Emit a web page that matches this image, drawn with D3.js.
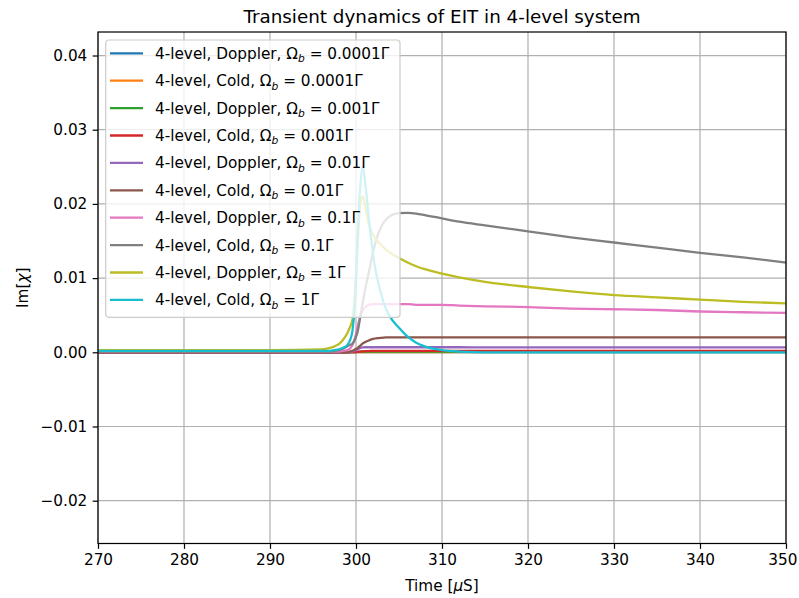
<!DOCTYPE html>
<html>
<head>
<meta charset="utf-8">
<script src="https://cdn.jsdelivr.net/npm/d3@7"></script>
<style>
  html, body { margin: 0; padding: 0; background: #fff; }
  svg { display: block; font-family: "DejaVu Sans", sans-serif; }
</style>
</head>
<body>
<svg id="chart" width="799" height="598"></svg>
<script>
// Sample times (µs), denser around the switch-on at ~300 µs
const times = [270, 280, 290, 296, 297, 297.5, 298, 298.5, 299, 299.3, 299.6, 299.9,
  300.2, 300.5, 300.8, 301.1, 301.5, 302, 302.5, 303, 303.5, 304, 305, 306, 307, 308,
  310, 312, 315, 320, 325, 330, 335, 340, 345, 350];

// Legend parts
const conditions = ["Doppler", "Cold", "Doppler", "Cold", "Doppler", "Cold", "Doppler", "Cold", "Doppler", "Cold"];
const omegaB = ["0.0001", "0.0001", "0.001", "0.001", "0.01", "0.01", "0.1", "0.1", "1", "1"];

// Im[chi] for each run, one value per sample time
const dopp00001 = [0.00001, 0.00001, 0.00001, 0.00001, 0.00001, 0.00001, 0.00001, 0.00001, 0.00001, 0.00001, 0.00001, 0.00001,
  0.00001, 0.00001, 0.00001, 0.00001, 0.00001, 0.00001, 0.00001, 0.00001, 0.00001, 0.00001, 0.00001, 0.00001, 0.00001, 0.00001,
  0.00001, 0.00001, 0.00001, 0.00001, 0.00001, 0.00001, 0.00001, 0.00001, 0.00001, 0.00001];
const cold00001 = [0, 0, 0, 0, 0, 0, 0, 0, 0, 0, 0, 0.00001,
  0.00001, 0.00002, 0.00002, 0.00002, 0.00002, 0.00002, 0.00002, 0.00002, 0.00002, 0.00002, 0.00002, 0.00002, 0.00002, 0.00002,
  0.00002, 0.00002, 0.00002, 0.00002, 0.00002, 0.00002, 0.00002, 0.00002, 0.00002, 0.00002];
const dopp0001 = [0, 0, 0, 0, 0, 0, 0, 0, 0, 0.00001, 0.00002, 0.00004,
  0.00006, 0.00008, 0.00009, 0.0001, 0.0001, 0.0001, 0.0001, 0.0001, 0.0001, 0.0001, 0.0001, 0.0001, 0.0001, 0.0001,
  0.0001, 0.0001, 0.0001, 0.0001, 0.0001, 0.0001, 0.0001, 0.0001, 0.0001, 0.0001];
const cold0001 = [0, 0, 0, 0, 0, 0, 0, 0, 0, 0.00001, 0.00002, 0.00004,
  0.00007, 0.0001, 0.00013, 0.00015, 0.00017, 0.00019, 0.0002, 0.0002, 0.0002, 0.0002, 0.0002, 0.0002, 0.0002, 0.0002,
  0.0002, 0.0002, 0.0002, 0.0002, 0.0002, 0.0002, 0.0002, 0.0002, 0.0002, 0.0002];
const dopp001 = [0, 0, 0, 0, 0, 0, 0, 0, 0.00001, 0.00003, 0.00008, 0.0002,
  0.0004, 0.0006, 0.00066, 0.00068, 0.00068, 0.00068, 0.00068, 0.00068, 0.00068, 0.00068, 0.00068, 0.00068, 0.00068, 0.00068,
  0.00068, 0.00068, 0.00067, 0.00067, 0.00067, 0.00066, 0.00066, 0.00066, 0.00065, 0.00065];
const cold001 = [0, 0, 0, 0, 0, 0, 0, 0, 0.00005, 0.0001, 0.0002, 0.0004,
  0.0006, 0.0009, 0.0012, 0.0014, 0.0016, 0.0018, 0.0019, 0.00195, 0.002, 0.002, 0.00201, 0.00202, 0.00202, 0.00202,
  0.00202, 0.00202, 0.00202, 0.00202, 0.00202, 0.00202, 0.00202, 0.00202, 0.00202, 0.00202];
const dopp01 = [0.0001, 0.0001, 0.0001, 0.0001, 0.0001, 0.0001, 0.0001, 0.0002, 0.0003, 0.0005, 0.001, 0.002,
  0.0035, 0.0048, 0.0057, 0.0061, 0.0064, 0.0065, 0.0065, 0.0065, 0.0065, 0.0065, 0.0065, 0.0065, 0.0064, 0.0064,
  0.0064, 0.0063, 0.0062, 0.0061, 0.0059, 0.0058, 0.0057, 0.0055, 0.0054, 0.0053];
const cold01 = [0.0001, 0.0001, 0.0001, 0.0001, 0.0001, 0.0002, 0.0003, 0.0005, 0.0008, 0.001, 0.0012, 0.0018,
  0.0028, 0.0048, 0.0068, 0.0087, 0.0108, 0.0136, 0.0157, 0.0171, 0.0179, 0.0184, 0.01875, 0.01878, 0.0187, 0.0185,
  0.01805, 0.0176, 0.0171, 0.0163, 0.0155, 0.0148, 0.0141, 0.0134, 0.0128, 0.0121];
const dopp1 = [0.0003, 0.0003, 0.0003, 0.0004, 0.0006, 0.0008, 0.0011, 0.0017, 0.0026, 0.0034, 0.0045, 0.0085,
  0.0145, 0.02, 0.021, 0.0195, 0.0172, 0.0158, 0.015, 0.0144, 0.0138, 0.0134, 0.0127, 0.0121, 0.0116, 0.0112,
  0.0106, 0.0101, 0.0095, 0.0088, 0.0082, 0.0077, 0.0074, 0.0071, 0.0068, 0.0066];
const cold1 = [0.0002, 0.0002, 0.0002, 0.0002, 0.0002, 0.0003, 0.0004, 0.0006, 0.001, 0.0016, 0.003, 0.007,
  0.016, 0.0225, 0.025, 0.0225, 0.018, 0.013, 0.0098, 0.0075, 0.0058, 0.0047, 0.0033, 0.0021, 0.0013, 0.0008,
  0.0003, 0.0001, 0, 0, 0, 0, 0, 0, 0, 0];

const seriesValues = [dopp00001, cold00001, dopp0001, cold0001, dopp001, cold001, dopp01, cold01, dopp1, cold1];
const colors = ["#1f77b4", "#ff7f0e", "#2ca02c", "#d62728", "#9467bd", "#8c564b", "#e377c2", "#7f7f7f", "#bcbd22", "#17becf"];

const xTicks = [270, 280, 290, 300, 310, 320, 330, 340, 350];
const yTicks = [-0.02, -0.01, 0.00, 0.01, 0.02, 0.03, 0.04];

const W = 799, H = 598;
const margin = { left: 98, right: 13, top: 32, bottom: 54.5 };
const pw = W - margin.left - margin.right;
const ph = H - margin.top - margin.bottom;

const pt = 110 / 72;          // px per point
const fontPx = 10 * pt;       // tick / label / legend text
const lw = 1.5 * pt;          // curve width

const svg = d3.select("#chart");
const g = svg.append("g").attr("transform", `translate(${margin.left},${margin.top})`);

const x = d3.scaleLinear().domain([270, 350]).range([0, pw]);
const y = d3.scaleLinear().domain([-0.02577, 0.04317]).range([ph, 0]);

// Grid
g.append("g").selectAll("line").data(xTicks).join("line")
  .attr("x1", d => x(d)).attr("x2", d => x(d)).attr("y1", 0).attr("y2", ph)
  .attr("stroke", "#b0b0b0").attr("stroke-width", 0.8 * pt);
g.append("g").selectAll("line").data(yTicks).join("line")
  .attr("y1", d => y(d)).attr("y2", d => y(d)).attr("x1", 0).attr("x2", pw)
  .attr("stroke", "#b0b0b0").attr("stroke-width", 0.8 * pt);

// Curves
svg.append("defs").append("clipPath").attr("id", "clip")
  .append("rect").attr("width", pw).attr("height", ph);

const line = d3.line()
  .x((d, i) => x(times[i]))
  .y(d => y(d))
  .curve(d3.curveMonotoneX);

g.append("g").attr("clip-path", "url(#clip)")
  .selectAll("path").data(seriesValues).join("path")
  .attr("d", d => line(d))
  .attr("fill", "none")
  .attr("stroke", (d, i) => colors[i])
  .attr("stroke-width", lw)
  .attr("stroke-linejoin", "round")
  .attr("stroke-linecap", "square");

// Axes
const xAxis = g.append("g").attr("transform", `translate(0,${ph})`)
  .call(d3.axisBottom(x).tickValues(xTicks).tickFormat(d3.format("d")).tickSize(3.5 * pt).tickPadding(3.5 * pt));
const yAxis = g.append("g")
  .call(d3.axisLeft(y).tickValues(yTicks).tickFormat(d3.format(".2f")).tickSize(3.5 * pt).tickPadding(3.5 * pt));
[xAxis, yAxis].forEach(a => {
  a.select(".domain").remove();
  a.selectAll(".tick line").attr("stroke", "#000").attr("stroke-width", 0.8 * pt);
  a.selectAll(".tick text").attr("font-family", "DejaVu Sans").attr("font-size", fontPx).attr("fill", "#000");
});
// keep the rightmost tick label inside the page edge
xAxis.selectAll(".tick text").filter(d => d === 350)
  .attr("text-anchor", "end").attr("dx", 11);

// Spines
g.append("rect").attr("width", pw).attr("height", ph)
  .attr("fill", "none").attr("stroke", "#000").attr("stroke-width", 0.8 * pt);

// Legend
const leg = g.append("g").attr("transform", `translate(${105.7 - margin.left},${40 - margin.top})`);
leg.append("rect").attr("width", 294.3).attr("height", 277.3).attr("rx", 3).attr("ry", 3)
  .attr("fill", "#fff").attr("fill-opacity", 0.8)
  .attr("stroke", "#cccccc").attr("stroke-width", 0.8 * pt);
const rows = leg.selectAll("g.row").data(conditions).join("g").attr("class", "row")
  .attr("transform", (d, i) => `translate(0,${13.3 + i * 27.4})`);
rows.append("line").attr("x1", 4.3).attr("x2", 37.3).attr("y1", 0).attr("y2", 0)
  .attr("stroke", (d, i) => colors[i]).attr("stroke-width", lw);
const lt = rows.append("text").attr("x", 49.3).attr("y", 5.5)
  .attr("font-size", fontPx).attr("fill", "#000");
lt.append("tspan").text(d => `4-level, ${d}, Ω`);
lt.append("tspan").attr("font-style", "italic").attr("font-size", fontPx * 0.7).attr("dy", 3.3).text("b");
lt.append("tspan").attr("dy", -3.3).text((d, i) => ` = ${omegaB[i]}Γ`);

// Title and axis labels
svg.append("text").attr("x", margin.left + pw / 2).attr("y", 22.5)
  .attr("text-anchor", "middle").attr("font-size", 12 * pt).attr("fill", "#000")
  .text("Transient dynamics of EIT in 4-level system");

const xl = svg.append("text").attr("x", margin.left + pw / 2).attr("y", 591)
  .attr("text-anchor", "middle").attr("font-size", fontPx).attr("fill", "#000");
xl.append("tspan").text("Time [");
xl.append("tspan").attr("font-style", "italic").text("μ");
xl.append("tspan").text("S]");

const yl = svg.append("text")
  .attr("transform", `translate(28,${margin.top + ph / 2}) rotate(-90)`)
  .attr("text-anchor", "middle").attr("font-size", fontPx).attr("fill", "#000");
yl.append("tspan").text("Im[");
yl.append("tspan").attr("font-style", "italic").text("χ");
yl.append("tspan").text("]");
</script>
</body>
</html>
